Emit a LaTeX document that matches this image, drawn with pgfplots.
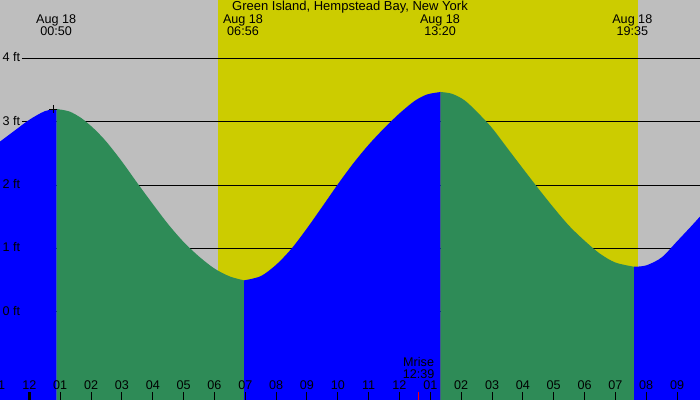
\documentclass[border=0pt]{standalone}
\usepackage{pgfplots}
\pgfplotsset{compat=1.18}
\usepackage{fontspec}
\setmainfont{Liberation Sans}

\definecolor{nightgray}{RGB}{190,190,190}
\definecolor{dayyellow}{RGB}{204,204,0}
\definecolor{floodblue}{RGB}{0,0,255}
\definecolor{ebbgreen}{RGB}{46,139,87}

\newcommand{\lbl}{\fontsize{12.6bp}{12bp}\selectfont}

\begin{document}
\begin{tikzpicture}[font=\lbl]
\begin{axis}[
  width=700bp, height=400bp, scale only axis,
  anchor=south west, at={(0,0)},
  xmin=-0.9533, xmax=21.744,
  ymin=-1.3954, ymax=4.9207,
  axis line style={draw=none},
  axis background/.style={fill=nightgray},
  ytick=\empty,
  xtick={-1,0,...,21},
  xticklabels={11,12,01,02,03,04,05,06,07,08,09,10,11,12,01,02,03,04,05,06,07,08,09},
  xtick pos=bottom, tick align=inside, major tick length=8bp,
  x tick style={black, line width=1bp},
  xticklabel style={anchor=base, yshift=10bp, font=\lbl, inner sep=0pt},
  axis on top,
]
% daylight band
\addplot[fill=dayyellow, draw=none] coordinates
  {(6.115,-1.6) (19.724,-1.6) (19.724,5.1) (6.115,5.1)} -- cycle;

% height lines
\addplot[black, line width=0.9bp] coordinates {(-0.24,4) (21.9,4)};
\addplot[black, line width=0.9bp] coordinates {(-0.24,3) (21.9,3)};
\addplot[black, line width=0.9bp] coordinates {(-0.24,2) (21.9,2)};
\addplot[black, line width=0.9bp] coordinates {(-0.24,1) (21.9,1)};
\addplot[black, line width=0.9bp] coordinates {(-0.24,0) (21.9,0)};

% tide (hours from midnight Aug 18, feet): rising = blue, falling = green
\addplot[fill=floodblue, draw=none, smooth] coordinates {
  (-1.05,2.650) (-0.5,2.850) (0.0,3.030) (0.5,3.165) (0.885,3.199)
} |- (axis cs:-1.05,-1.6) -- cycle;
\addplot[fill=ebbgreen, draw=none, smooth] coordinates {
  (0.885,3.199) (1.3,3.160) (1.7,3.050) (2.1,2.885) (2.5,2.680) (3.0,2.370) (3.5,2.030)
  (4.0,1.700) (4.5,1.380) (5.0,1.100) (5.5,0.870) (6.0,0.680)
  (6.5,0.555) (6.960,0.494)
} |- (axis cs:0.885,-1.6) -- cycle;
\addplot[fill=floodblue, draw=none, smooth] coordinates {
  (6.960,0.494) (7.5,0.560) (8.0,0.740) (8.5,0.995) (9.0,1.315) (9.5,1.660)
  (10.0,2.010) (10.5,2.340) (11.0,2.635) (11.5,2.895) (12.0,3.130)
  (12.5,3.330) (12.9,3.430) (13.337,3.468)
} |- (axis cs:6.960,-1.6) -- cycle;
\addplot[fill=ebbgreen, draw=none, smooth] coordinates {
  (13.337,3.468) (13.7,3.440) (14.1,3.340) (14.5,3.160) (15.0,2.900) (15.5,2.580) (16.0,2.260)
  (16.5,1.945) (17.0,1.640) (17.5,1.355) (18.0,1.120) (18.5,0.915)
  (19.0,0.775) (19.604,0.709)
} |- (axis cs:13.337,-1.6) -- cycle;
\addplot[fill=floodblue, draw=none, smooth] coordinates {
  (19.604,0.709) (20.0,0.730) (20.5,0.855) (21.0,1.110) (21.5,1.370) (21.85,1.560)
} |- (axis cs:19.604,-1.6) -- cycle;

% marker at first high water
\addplot[only marks, mark=+, mark size=4bp, black, line width=0.8bp] coordinates {(0.775,3.20)};

% midnight and moonrise ticks
\addplot[black, line width=3bp] coordinates {(0,-1.5) (0,-1.269)};
\addplot[red, line width=1bp] coordinates {(12.63,-1.5) (12.63,-1.269)};

% labels
\node[anchor=base, inner sep=0pt, font=\fontsize{13bp}{13bp}\selectfont] at (rel axis cs:0.5,0.9725) {Green Island, Hempstead Bay, New York};

\node[anchor=base, inner sep=0pt] at (axis cs:0.869,4.9207) [yshift=-24bp] {Aug 18};
\node[anchor=base, inner sep=0pt] at (axis cs:0.869,4.9207) [yshift=-36bp] {00:50};
\node[anchor=base, inner sep=0pt] at (axis cs:6.926,4.9207) [yshift=-24bp] {Aug 18};
\node[anchor=base, inner sep=0pt] at (axis cs:6.926,4.9207) [yshift=-36bp] {06:56};
\node[anchor=base, inner sep=0pt] at (axis cs:13.314,4.9207) [yshift=-24bp] {Aug 18};
\node[anchor=base, inner sep=0pt] at (axis cs:13.314,4.9207) [yshift=-36bp] {13:20};
\node[anchor=base, inner sep=0pt] at (axis cs:19.549,4.9207) [yshift=-24bp] {Aug 18};
\node[anchor=base, inner sep=0pt] at (axis cs:19.549,4.9207) [yshift=-36bp] {19:35};

\node[anchor=base, inner sep=0pt] at (axis cs:12.62,-1.3954) [yshift=33.3bp] {Mrise};
\node[anchor=base, inner sep=0pt] at (axis cs:12.62,-1.3954) [yshift=21.8bp] {12:39};

% hour label left of the plotted range
\node[anchor=base, inner sep=0pt] at (axis cs:-1,-1.3954) [yshift=10bp] {11};

\node[anchor=base west, inner sep=0pt] at (axis cs:-0.9533,4) [xshift=2.5bp, yshift=-3.5bp] {4 ft};
\node[anchor=base west, inner sep=0pt] at (axis cs:-0.9533,3) [xshift=2.5bp, yshift=-3.5bp] {3 ft};
\node[anchor=base west, inner sep=0pt] at (axis cs:-0.9533,2) [xshift=2.5bp, yshift=-3.5bp] {2 ft};
\node[anchor=base west, inner sep=0pt] at (axis cs:-0.9533,1) [xshift=2.5bp, yshift=-3.5bp] {1 ft};
\node[anchor=base west, inner sep=0pt] at (axis cs:-0.9533,0) [xshift=2.5bp, yshift=-3.5bp] {0 ft};
\end{axis}
\pgfresetboundingbox
\useasboundingbox (0,0) rectangle (700bp,400bp);
\end{tikzpicture}
\end{document}
